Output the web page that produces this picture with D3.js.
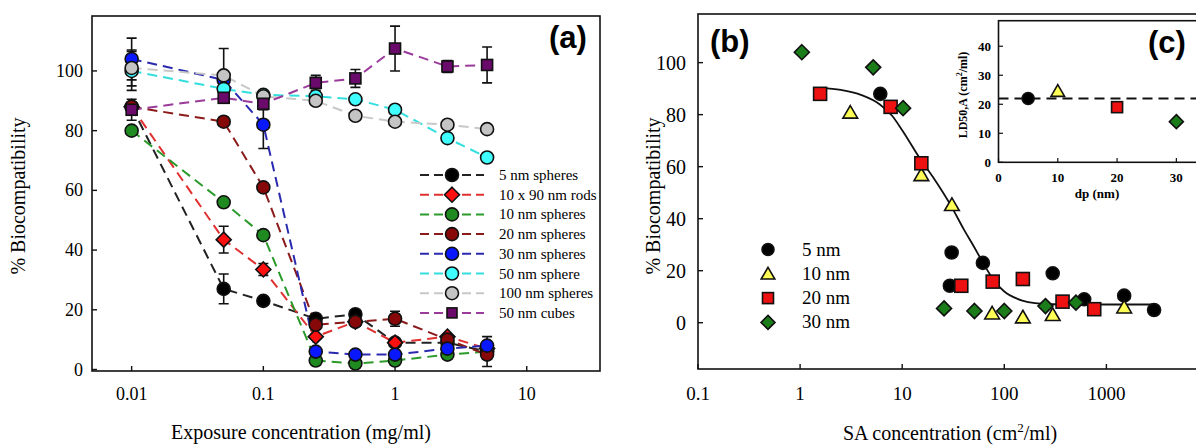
<!DOCTYPE html>
<html>
<head>
<meta charset="utf-8">
<script src="https://cdn.jsdelivr.net/npm/d3@7"></script>
<style>
  body { margin: 0; background: #fff; }
  svg { display: block; }
</style>
</head>
<body>
<svg class="chart"></svg>
<script>
// ---- panel (a) data
var concA = [0.01, 0.05, 0.1, 0.25, 0.5, 1, 2.5, 5];
var namesA = ['5 nm spheres', '10 x 90 nm rods', '10 nm spheres', '20 nm spheres',
  '30 nm spheres', '50 nm sphere', '100 nm spheres', '50 nm cubes'];
var sphere5 = [88, 27, 23, 17, 18.5, 9, 9, 6];
var rods10x90 = [88, 43.5, 33.5, 11, 16, 9, 11, 7];
var sphere10 = [80, 56, 45, 3, 2, 3, 5, 6];
var sphere20 = [88, 83, 61, 15, 16, 17, 10, 5];
var sphere30 = [104, 97, 82, 6, 5, 5, 7, 8];
var sphere50 = [100, 94, 92, 91.5, 90.5, 87, 77.5, 71];
var sphere100 = [101, 98.5, 91.5, 90, 85, 83, 82, 80.5];
var cubes50 = [87, 91, 89, 96, 97.5, 107.5, 101.5, 102];

var err5 = [0, 5, 1, 1, 1, 0, 0, 0];
var errRods = [0, 4.5, 2, 0, 0, 0, 0, 0];
var err10 = [0, 0, 0, 0, 0, 0, 0, 0];
var err20 = [0, 1.5, 1, 1, 1.5, 2.5, 0, 4];
var err30 = [7, 0, 8, 0, 0, 0, 0, 3];
var err50 = [6.5, 0, 0, 0, 0, 0, 0, 0];
var err100 = [6, 9, 0, 0, 0, 0, 0, 0];
var errCubes = [3.5, 1.5, 2, 2.5, 3, 7.5, 2, 6];

var ticksA = [0.01, 0.1, 1, 10];
var ticksY = [0, 20, 40, 60, 80, 100];

// ---- panel (b) data
var sa5 = [6.1, 30.5, 29.3, 61.7, 298, 606, 1493, 2931];
var bio5 = [88, 27, 14.2, 23, 19, 9, 10.4, 4.9];
var sa10 = [3.1, 15.4, 30.7, 76, 152, 298, 1493];
var bio10 = [80.8, 56.8, 45.3, 3.6, 2.1, 3, 5.9];
var sa20 = [1.57, 7.7, 15.4, 37.9, 77, 152, 372, 760];
var bio20 = [88, 83, 61.3, 14.2, 15.8, 16.8, 8.1, 5.2];
var sa30 = [1.04, 5.2, 10.2, 25.7, 51, 100, 253, 503];
var bio30 = [104, 98.2, 82.5, 5.5, 4.5, 4.5, 6.4, 7.7];
var namesB = ['5 nm', '10 nm', '20 nm', '30 nm'];

var fitSA = [1.6, 2.5, 4, 6, 8, 10, 15, 20, 30, 40, 50, 60, 80, 100, 150, 200, 300, 1000, 3000];
var fitBio = [90.3, 89.5, 87.5, 84, 79.5, 74, 63, 56, 45, 36, 29.5, 24, 16, 12, 8.5, 7.5, 7.1, 7, 7];
var ticksB = [0.1, 1, 10, 100, 1000];

// ---- inset (c) data
var dpSizes = [5, 10, 20, 30];
var ld50 = [22, 24.5, 19, 14];
var ld50Mean = 22;
var ticksCx = [0, 10, 20, 30];
var ticksCy = [0, 10, 20, 30, 40];

var W = 1196, H = 445;
var serif = '"Liberation Serif", "Times New Roman", serif';
var sans = '"Liberation Sans", Arial, sans-serif';

var svg = d3.select('.chart')
  .attr('width', W)
  .attr('height', H);

// marker helper
function marker(g, shape, x, y, s, fill) {
  var el;
  if (shape === 'circle') {
    el = g.append('circle').attr('cx', x).attr('cy', y).attr('r', s);
  } else if (shape === 'square') {
    el = g.append('rect').attr('x', x - s).attr('y', y - s)
      .attr('width', 2 * s).attr('height', 2 * s);
  } else if (shape === 'diamond') {
    el = g.append('path').attr('d', 'M' + x + ',' + (y - s) + 'L' + (x + s) + ',' + y +
      'L' + x + ',' + (y + s) + 'L' + (x - s) + ',' + y + 'Z');
  } else {
    el = g.append('path').attr('d', 'M' + x + ',' + (y - s) + 'L' + (x + s * 1.05) + ',' + (y + s * 0.8) +
      'L' + (x - s * 1.05) + ',' + (y + s * 0.8) + 'Z');
  }
  el.attr('fill', fill).attr('stroke', '#111').attr('stroke-width', 1.6);
  return el;
}

// ================= panel (a)
var xA = d3.scaleLog().domain([0.005, 36]).range([92, 600]);
var yA = d3.scaleLinear().domain([-0.5, 118.4]).range([371, 16]);

var seriesA = [
  { name: namesA[0], vals: sphere5, err: err5, shape: 'circle', line: '#222', fill: '#000' },
  { name: namesA[1], vals: rods10x90, err: errRods, shape: 'diamond', line: '#e03030', fill: '#ff1010' },
  { name: namesA[2], vals: sphere10, err: err10, shape: 'circle', line: '#2a9a2a', fill: '#1f8a1f' },
  { name: namesA[3], vals: sphere20, err: err20, shape: 'circle', line: '#8b1a1a', fill: '#870808' },
  { name: namesA[4], vals: sphere30, err: err30, shape: 'circle', line: '#2a2ab0', fill: '#0a18ff' },
  { name: namesA[5], vals: sphere50, err: err50, shape: 'circle', line: '#33dede', fill: '#40ffff' },
  { name: namesA[6], vals: sphere100, err: err100, shape: 'circle', line: '#c8c8c8', fill: '#c4c4c4' },
  { name: namesA[7], vals: cubes50, err: errCubes, shape: 'square', line: '#9a3a9a', fill: '#6a0a6a' }
];

var gA = svg.append('g');

gA.append('rect')
  .attr('x', 92).attr('y', 16)
  .attr('width', 508).attr('height', 355)
  .attr('fill', 'none').attr('stroke', '#111').attr('stroke-width', 1.6);

gA.selectAll('.xtA').data(ticksA).enter().append('line')
  .attr('x1', function(d) { return xA(d); })
  .attr('x2', function(d) { return xA(d); })
  .attr('y1', 371).attr('y2', 366)
  .attr('stroke', '#111').attr('stroke-width', 1.4);

gA.selectAll('.xlA').data(ticksA).enter().append('text')
  .attr('x', function(d) { return xA(d); })
  .attr('y', 400)
  .attr('text-anchor', 'middle')
  .style('font-family', serif).style('font-size', '18px')
  .text(function(d) { return d; });

gA.selectAll('.ytA').data(ticksY).enter().append('line')
  .attr('x1', 92).attr('x2', 97)
  .attr('y1', function(d) { return yA(d); })
  .attr('y2', function(d) { return yA(d); })
  .attr('stroke', '#111').attr('stroke-width', 1.4);

gA.selectAll('.ylA').data(ticksY).enter().append('text')
  .attr('x', 83)
  .attr('y', function(d) { return yA(d) + 6; })
  .attr('text-anchor', 'end')
  .style('font-family', serif).style('font-size', '18px')
  .text(function(d) { return d; });

gA.append('text')
  .attr('transform', 'translate(25,196) rotate(-90)')
  .attr('text-anchor', 'middle')
  .style('font-family', serif).style('font-size', '20px')
  .text('% Biocompatibility');

gA.append('text')
  .attr('x', 301).attr('y', 439)
  .attr('text-anchor', 'middle')
  .style('font-family', serif).style('font-size', '20px')
  .text('Exposure concentration (mg/ml)');

var lineA = d3.line()
  .x(function(d) { return xA(d[0]); })
  .y(function(d) { return yA(d[1]); });

seriesA.forEach(function(s) {
  gA.append('path')
    .attr('d', lineA(concA.map(function(c, i) { return [c, s.vals[i]]; })))
    .attr('fill', 'none')
    .attr('stroke', s.line)
    .attr('stroke-width', 2)
    .attr('stroke-dasharray', '10,6');
});

seriesA.forEach(function(s) {
  concA.forEach(function(c, i) {
    if (!s.err[i]) return;
    var x = xA(c), y1 = yA(s.vals[i] + s.err[i]), y2 = yA(s.vals[i] - s.err[i]);
    gA.append('path')
      .attr('d', 'M' + x + ',' + y1 + 'V' + y2 + 'M' + (x - 5) + ',' + y1 + 'H' + (x + 5) +
        'M' + (x - 5) + ',' + y2 + 'H' + (x + 5))
      .attr('fill', 'none').attr('stroke', '#111').attr('stroke-width', 1.6);
  });
});

seriesA.forEach(function(s) {
  concA.forEach(function(c, i) {
    var sz = s.shape === 'square' ? 5.5 : (s.shape === 'diamond' ? 7.5 : 6.5);
    marker(gA, s.shape, xA(c), yA(s.vals[i]), sz, s.fill);
  });
});

// legend (a)
seriesA.forEach(function(s, i) {
  var ly = 175 + i * 19.7;
  gA.append('line')
    .attr('x1', 420).attr('x2', 484)
    .attr('y1', ly).attr('y2', ly)
    .attr('stroke', s.line).attr('stroke-width', 2)
    .attr('stroke-dasharray', '9,5');
  var sz = s.shape === 'square' ? 5 : (s.shape === 'diamond' ? 7.5 : 6.5);
  marker(gA, s.shape, 452, ly, sz, s.fill);
  gA.append('text')
    .attr('x', 499).attr('y', ly + 5)
    .style('font-family', serif).style('font-size', '15px')
    .text(s.name);
});

gA.append('text')
  .attr('x', 549).attr('y', 48)
  .style('font-family', sans).style('font-weight', 'bold').style('font-size', '31px')
  .text('(a)');

// ================= panel (b)
var xB = d3.scaleLog().domain([0.1, 10000]).range([698, 1208.5]);
var yB = d3.scaleLinear().domain([-17.8, 118.7]).range([369, 14]);

var seriesB = [
  { name: namesB[0], sa: sa5, bio: bio5, shape: 'circle', fill: '#000', s: 6.5, ls: 6 },
  { name: namesB[1], sa: sa10, bio: bio10, shape: 'triangle', fill: '#ffff55', s: 7, ls: 6.5 },
  { name: namesB[2], sa: sa20, bio: bio20, shape: 'square', fill: '#ee1111', s: 6.5, ls: 5.5 },
  { name: namesB[3], sa: sa30, bio: bio30, shape: 'diamond', fill: '#1a7d1a', s: 7.5, ls: 7 }
];

var gB = svg.append('g');

gB.append('rect')
  .attr('x', 698).attr('y', 14)
  .attr('width', 540).attr('height', 355)
  .attr('fill', 'none').attr('stroke', '#111').attr('stroke-width', 1.6);

gB.selectAll('.xtB').data(ticksB).enter().append('line')
  .attr('x1', function(d) { return xB(d); })
  .attr('x2', function(d) { return xB(d); })
  .attr('y1', 369).attr('y2', 364)
  .attr('stroke', '#111').attr('stroke-width', 1.4);

gB.selectAll('.xlB').data(ticksB).enter().append('text')
  .attr('x', function(d) { return xB(d); })
  .attr('y', 400)
  .attr('text-anchor', 'middle')
  .style('font-family', serif).style('font-size', '19px')
  .text(function(d) { return d; });

gB.selectAll('.ytB').data(ticksY).enter().append('line')
  .attr('x1', 698).attr('x2', 703)
  .attr('y1', function(d) { return yB(d); })
  .attr('y2', function(d) { return yB(d); })
  .attr('stroke', '#111').attr('stroke-width', 1.4);

gB.selectAll('.ylB').data(ticksY).enter().append('text')
  .attr('x', 686)
  .attr('y', function(d) { return yB(d) + 7; })
  .attr('text-anchor', 'end')
  .style('font-family', serif).style('font-size', '20px')
  .text(function(d) { return d; });

gB.append('text')
  .attr('transform', 'translate(660,196) rotate(-90)')
  .attr('text-anchor', 'middle')
  .style('font-family', serif).style('font-size', '20px')
  .text('% Biocompatibility');

var xTitle = gB.append('text')
  .attr('x', 950).attr('y', 440)
  .attr('text-anchor', 'middle')
  .style('font-family', serif).style('font-size', '20px');
xTitle.append('tspan').text('SA concentration (cm');
xTitle.append('tspan').attr('dy', -8).style('font-size', '13px').text('2');
xTitle.append('tspan').attr('dy', 8).text('/ml)');

var fitLine = d3.line()
  .curve(d3.curveMonotoneX)
  .x(function(d) { return xB(d[0]); })
  .y(function(d) { return yB(d[1]); });

gB.append('path')
  .attr('d', fitLine(fitSA.map(function(v, i) { return [v, fitBio[i]]; })))
  .attr('fill', 'none').attr('stroke', '#111').attr('stroke-width', 1.8);

seriesB.forEach(function(s) {
  s.sa.forEach(function(v, i) {
    marker(gB, s.shape, xB(v), yB(s.bio[i]), s.s, s.fill);
  });
});

seriesB.forEach(function(s, i) {
  var ly = 249.5 + i * 24.3;
  marker(gB, s.shape, 768, ly, s.ls, s.fill);
  gB.append('text')
    .attr('x', 802).attr('y', ly + 6)
    .style('font-family', serif).style('font-size', '19px')
    .text(s.name);
});

gB.append('text')
  .attr('x', 710).attr('y', 52)
  .style('font-family', sans).style('font-weight', 'bold').style('font-size', '31px')
  .text('(b)');

// ================= inset (c)
var xC = d3.scaleLinear().domain([0, 35]).range([998.5, 1206]);
var yC = d3.scaleLinear().domain([0, 48.8]).range([162.3, 20.7]);
var gC = svg.append('g');

gC.append('rect')
  .attr('x', 998.5).attr('y', 20.7)
  .attr('width', 240).attr('height', 141.6)
  .attr('fill', '#fff').attr('stroke', '#111').attr('stroke-width', 1.6);

gC.selectAll('.xtC').data(ticksCx).enter().append('line')
  .attr('x1', function(d) { return xC(d); })
  .attr('x2', function(d) { return xC(d); })
  .attr('y1', 162.3).attr('y2', 158)
  .attr('stroke', '#111').attr('stroke-width', 1.2);

gC.selectAll('.xlC').data(ticksCx).enter().append('text')
  .attr('x', function(d) { return xC(d); })
  .attr('y', 182)
  .attr('text-anchor', 'middle')
  .style('font-family', serif).style('font-weight', 'bold').style('font-size', '13px')
  .text(function(d) { return d; });

gC.selectAll('.ytC').data(ticksCy).enter().append('line')
  .attr('x1', 998.5).attr('x2', 1003)
  .attr('y1', function(d) { return yC(d); })
  .attr('y2', function(d) { return yC(d); })
  .attr('stroke', '#111').attr('stroke-width', 1.2);

gC.selectAll('.ylC').data(ticksCy).enter().append('text')
  .attr('x', 991)
  .attr('y', function(d) { return yC(d) + 5; })
  .attr('text-anchor', 'end')
  .style('font-family', serif).style('font-weight', 'bold').style('font-size', '13px')
  .text(function(d) { return d; });

gC.append('text')
  .attr('x', 1097).attr('y', 198)
  .attr('text-anchor', 'middle')
  .style('font-family', serif).style('font-weight', 'bold').style('font-size', '13px')
  .text('dp (nm)');

var yTitleC = gC.append('text')
  .attr('transform', 'translate(967,95) rotate(-90)')
  .attr('text-anchor', 'middle')
  .style('font-family', serif).style('font-weight', 'bold').style('font-size', '12px');
yTitleC.append('tspan').text('LD50,A (cm');
yTitleC.append('tspan').attr('dy', -5).style('font-size', '8px').text('2');
yTitleC.append('tspan').attr('dy', 5).text('/ml)');

gC.append('line')
  .attr('x1', xC(0)).attr('x2', 1196)
  .attr('y1', yC(ld50Mean)).attr('y2', yC(ld50Mean))
  .attr('stroke', '#111').attr('stroke-width', 2)
  .attr('stroke-dasharray', '10,6');

dpSizes.forEach(function(d, i) {
  var s = seriesB[i];
  marker(gC, s.shape, xC(d), yC(ld50[i]), s.ls, s.fill);
});

gC.append('text')
  .attr('x', 1148).attr('y', 53)
  .style('font-family', sans).style('font-weight', 'bold').style('font-size', '31px')
  .text('(c)');
</script>
</body>
</html>
